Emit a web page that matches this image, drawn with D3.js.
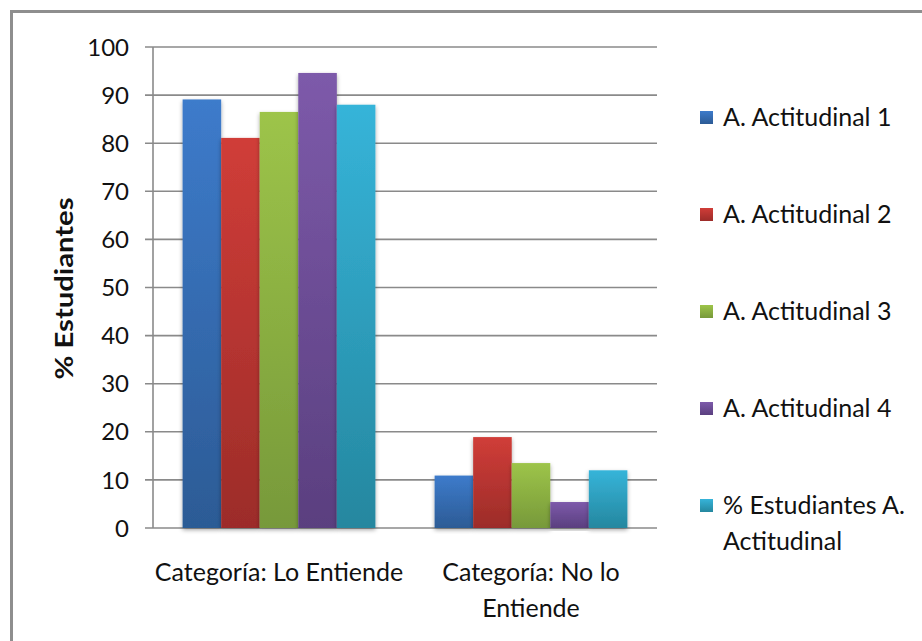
<!DOCTYPE html>
<html>
<head>
<meta charset="utf-8">
<script src="https://cdn.jsdelivr.net/npm/d3@7"></script>
<style>
  html, body { margin: 0; padding: 0; background: #fff; }
  svg { display: block; }
  text { font-family: Lato, "Open Sans", sans-serif; fill: #111; }
</style>
</head>
<body>
<svg id="chart" width="922" height="641"></svg>
<script>
// Category labels (each is a list of lines)
const categories = [
  ["Categoría: Lo Entiende"],
  ["Categoría: No lo", "Entiende"]
];
// Series names (legend lines)
const seriesNames = [
  ["A. Actitudinal 1"],
  ["A. Actitudinal 2"],
  ["A. Actitudinal 3"],
  ["A. Actitudinal 4"],
  ["% Estudiantes A.", "Actitudinal"]
];
// Values per series: [Lo Entiende, No lo Entiende]
const actitudinal1 = [89.1, 10.9];
const actitudinal2 = [81.1, 18.9];
const actitudinal3 = [86.5, 13.5];
const actitudinal4 = [94.6, 5.4];
const estudiantes  = [88.0, 12.0];
const yTicks = [0, 10, 20, 30, 40, 50, 60, 70, 80, 90, 100];

const seriesValues = [actitudinal1, actitudinal2, actitudinal3, actitudinal4, estudiantes];
const colorsTop = ["#3d7bcb", "#d03d38", "#9dc449", "#7d5aaa", "#36b4d9"];
const colorsBot = ["#2c5b95", "#9c2c29", "#77993a", "#5a3f7f", "#25879f"];

const svg = d3.select("#chart");

// outer frame
svg.append("rect")
  .attr("x", 11.5).attr("y", 11.5)
  .attr("width", 930).attr("height", 650)
  .attr("fill", "none").attr("stroke", "#8e8e8e").attr("stroke-width", 3);

const plot = { left: 153, right: 657, top: 47, bottom: 528 };

const x = d3.scaleBand()
  .domain(d3.range(categories.length))
  .range([plot.left, plot.right])
  .paddingInner(0.235).paddingOuter(0.1175);
const xs = d3.scaleBand()
  .domain(d3.range(seriesNames.length))
  .range([0, x.bandwidth()]);
const y = d3.scaleLinear().domain([0, 100]).range([plot.bottom, plot.top]);

// gradients and shadow
const defs = svg.append("defs");
seriesNames.forEach((s, i) => {
  const g = defs.append("linearGradient").attr("id", "g" + i)
    .attr("x1", 0).attr("y1", 0).attr("x2", 0).attr("y2", 1);
  g.append("stop").attr("offset", "0%").attr("stop-color", colorsTop[i]);
  g.append("stop").attr("offset", "100%").attr("stop-color", colorsBot[i]);
});
const f = defs.append("filter").attr("id", "shadow")
  .attr("x", "-20%").attr("y", "-5%").attr("width", "140%").attr("height", "115%");
f.append("feDropShadow").attr("dx", 0).attr("dy", 2).attr("stdDeviation", 2)
  .attr("flood-color", "#000").attr("flood-opacity", 0.35);

// gridlines
svg.append("g").selectAll("line").data(yTicks).join("line")
  .attr("x1", plot.left - 8).attr("x2", plot.right)
  .attr("y1", d => y(d)).attr("y2", d => y(d))
  .attr("stroke", "#8a8a8a").attr("stroke-width", 1.6);

// y axis line
svg.append("line")
  .attr("x1", plot.left).attr("x2", plot.left)
  .attr("y1", plot.top).attr("y2", plot.bottom)
  .attr("stroke", "#8a8a8a").attr("stroke-width", 1.6);

// y tick labels
svg.append("g").selectAll("text").data(yTicks).join("text")
  .attr("x", 129).attr("y", d => y(d))
  .attr("dy", "0.36em")
  .attr("text-anchor", "end")
  .style("font-size", "24px")
  .text(d => d);

// y axis title
svg.append("text")
  .attr("transform", `translate(73, ${(plot.top + plot.bottom) / 2 + 1}) rotate(-90)`)
  .attr("text-anchor", "middle")
  .attr("textLength", 182).attr("lengthAdjust", "spacingAndGlyphs")
  .style("font-size", "24px").style("font-weight", "bold")
  .text("% Estudiantes");

// bars
const groups = svg.append("g").selectAll("g").data(categories).join("g")
  .attr("transform", (d, ci) => `translate(${x(ci)},0)`);
groups.each(function (c, ci) {
  d3.select(this).selectAll("rect").data(seriesValues.map(v => v[ci])).join("rect")
    .attr("x", (d, si) => xs(si))
    .attr("width", xs.bandwidth())
    .attr("y", d => y(d))
    .attr("height", d => y(0) - y(d))
    .attr("fill", (d, si) => `url(#g${si})`)
    .attr("filter", "url(#shadow)");
});

// category labels
categories.forEach((lines, ci) => {
  const cx = x(ci) + x.bandwidth() / 2;
  svg.append("text")
    .attr("x", cx).attr("y", 581)
    .attr("text-anchor", "middle")
    .style("font-size", "25px")
    .selectAll("tspan").data(lines).join("tspan")
    .attr("x", cx).attr("dy", (d, i) => i === 0 ? 0 : 36)
    .text(d => d);
});

// legend
const legend = svg.append("g");
seriesNames.forEach((lines, i) => {
  const cy = 117 + i * 97;
  legend.append("rect")
    .attr("x", 700).attr("y", cy - 6).attr("width", 13).attr("height", 13)
    .attr("fill", `url(#g${i})`);
  legend.append("text")
    .attr("x", 723).attr("y", cy)
    .style("font-size", "25px")
    .selectAll("tspan").data(lines).join("tspan")
    .attr("x", 723).attr("dy", (d, j) => j === 0 ? "0.36em" : 36)
    .text(d => d);
});
</script>
</body>
</html>
